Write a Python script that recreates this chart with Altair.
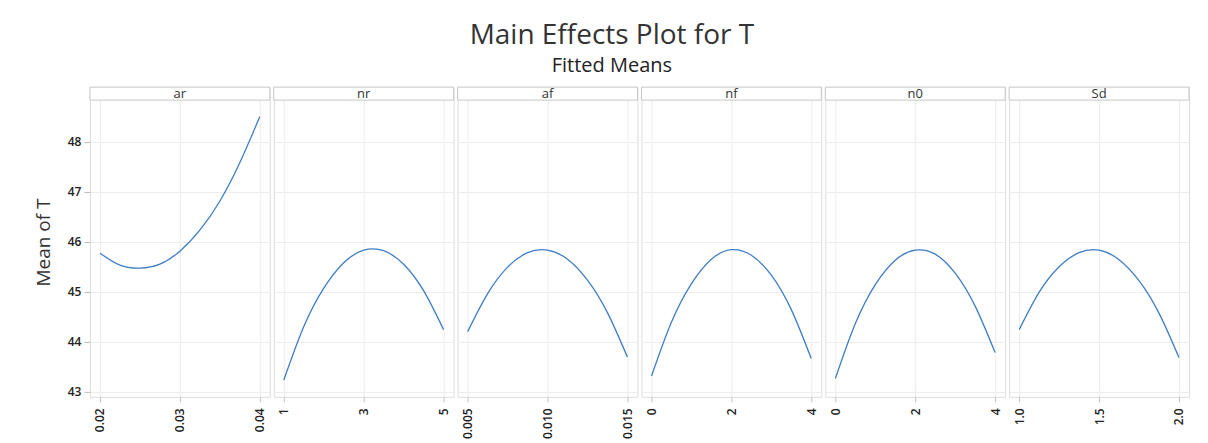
import altair as alt
import pandas as pd

# ---- data ----
ar_x = [0.020, 0.0225, 0.025, 0.0275, 0.030, 0.0325, 0.035, 0.0375, 0.040]
ar_y = [45.77, 45.53, 45.47, 45.55, 45.81, 46.23, 46.81, 47.58, 48.50]

nr_x = [1, 1.5, 2, 2.5, 3, 3.5, 4, 4.5, 5]
nr_y = [43.23, 44.30, 45.07, 45.58, 45.83, 45.82, 45.55, 45.02, 44.24]

af_x = [0.005, 0.00625, 0.0075, 0.00875, 0.010, 0.01125, 0.0125, 0.01375, 0.015]
af_y = [44.20, 44.96, 45.49, 45.78, 45.83, 45.65, 45.23, 44.58, 43.69]

nf_x = [0, 0.5, 1, 1.5, 2, 2.5, 3, 3.5, 4]
nf_y = [43.31, 44.39, 45.16, 45.65, 45.84, 45.73, 45.33, 44.64, 43.66]

n0_x = [0, 0.5, 1, 1.5, 2, 2.5, 3, 3.5, 4]
n0_y = [43.26, 44.36, 45.14, 45.63, 45.83, 45.75, 45.37, 44.71, 43.78]

sd_x = [1.0, 1.125, 1.25, 1.375, 1.5, 1.625, 1.75, 1.875, 2.0]
sd_y = [44.24, 44.99, 45.50, 45.78, 45.83, 45.64, 45.22, 44.57, 43.68]

factors = ["ar", "nr", "af", "nf", "n0", "Sd"]
x_ticks = {
    "ar": [0.02, 0.03, 0.04],
    "nr": [1, 3, 5],
    "af": [0.005, 0.010, 0.015],
    "nf": [0, 2, 4],
    "n0": [0, 2, 4],
    "Sd": [1.0, 1.5, 2.0],
}
x_formats = {"ar": ".2f", "nr": "d", "af": ".3f", "nf": "d", "n0": "d", "Sd": ".1f"}
series = {
    "ar": (ar_x, ar_y),
    "nr": (nr_x, nr_y),
    "af": (af_x, af_y),
    "nf": (nf_x, nf_y),
    "n0": (n0_x, n0_y),
    "Sd": (sd_x, sd_y),
}
y_ticks = [43, 44, 45, 46, 47, 48]

# ---- layout ----
W = 180
H = 310
HEADER = 13
Y_DOMAIN = [42.894, 49.094]
FONT = "Open Sans"
LINE_COLOR = "#3f7dc4"
GRID = "#ececec"
FRAME = "#c6c6c6"

one_row = alt.Data(values=[{"k": 1}])


def panel(name, first):
    xs, ys = series[name]
    df = pd.DataFrame({"x": xs, "y": ys})
    ticks = x_ticks[name]
    lo, hi = ticks[0], ticks[-1]
    pad = (hi - lo) * 0.063
    xscale = alt.Scale(domain=[lo - pad, hi + pad], nice=False, zero=False)
    yscale = alt.Scale(domain=Y_DOMAIN, nice=False, zero=False)
    xaxis = alt.Axis(
        values=ticks, format=x_formats[name], title=None, labelAngle=270,
        labelFontSize=12, labelFontWeight=600, labelColor="#222",
        labelPadding=6, grid=True, gridColor=GRID, domain=False,
        tickColor="#bdbdbd", tickSize=5, labelFont=FONT,
    )
    if first:
        yaxis = alt.Axis(
            values=y_ticks, title="Mean of T", titleFontSize=19,
            titleFontWeight="normal", titleColor="#333", titleFont=FONT,
            titlePadding=14, labelFontSize=12, labelFontWeight=600,
            labelColor="#222", labelFont=FONT, labelPadding=3, tickSize=6,
            tickColor="#bdbdbd", grid=True, gridColor=GRID, domain=False,
        )
    else:
        yaxis = alt.Axis(
            values=y_ticks, title=None, labels=False, ticks=False,
            grid=True, gridColor=GRID, domain=False,
        )
    line = alt.Chart(df).mark_line(
        color=LINE_COLOR, strokeWidth=1.3, interpolate="natural"
    ).encode(
        x=alt.X("x:Q", scale=xscale, axis=xaxis),
        y=alt.Y("y:Q", scale=yscale, axis=yaxis),
    )
    strip = alt.Chart(one_row).mark_rect(
        fill="white", stroke=FRAME, strokeWidth=1
    ).encode(
        x=alt.value(0), x2=alt.value(W), y=alt.value(0), y2=alt.value(HEADER)
    )
    label = alt.Chart(one_row).mark_text(
        text=name, fontSize=13, font=FONT, color="#333", baseline="middle"
    ).encode(x=alt.value(W / 2), y=alt.value(HEADER / 2))
    return alt.layer(line, strip, label).properties(width=W, height=H)


panels = [panel(f, i == 0) for i, f in enumerate(factors)]

chart = alt.hconcat(*panels, spacing=2).properties(
    title=alt.TitleParams(
        "Main Effects Plot for T",
        subtitle="Fitted Means",
        fontSize=28,
        subtitleFontSize=20,
        font=FONT,
        subtitleFont=FONT,
        fontWeight="normal",
        color="#333",
        subtitleColor="#222",
        anchor="middle",
        subtitlePadding=6,
        offset=10,
    ),
    padding={"left": 25, "top": 14, "right": 10, "bottom": 2},
).configure_view(stroke=FRAME, strokeWidth=1).configure(background="white")

chart.save("out.html", embed_options={"renderer": "svg", "actions": False})
